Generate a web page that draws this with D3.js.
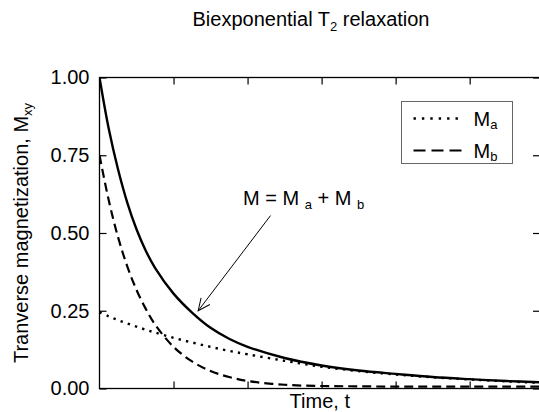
<!DOCTYPE html>
<html>
<head>
<meta charset="utf-8">
<script src="https://cdn.jsdelivr.net/npm/d3@7"></script>
<style>
    body { margin: 0; background: #fff; }
    svg { display: block; }
</style>
</head>
<body>
<div id="main"></div>
<script>
"use strict";

// values (time in arbitrary units)
const times = [0, 0.125, 0.25, 0.375, 0.5, 0.625, 0.75, 1, 1.25, 1.5, 1.75, 2, 2.5, 3, 3.5, 4, 4.5, 5, 5.5, 5.95];
const magA = [0.245, 0.232, 0.220, 0.209, 0.199, 0.189, 0.180, 0.163, 0.148, 0.134, 0.121, 0.110, 0.089, 0.070, 0.056, 0.045, 0.036, 0.029, 0.023, 0.018];
const magB = [0.75, 0.605, 0.487, 0.393, 0.317, 0.256, 0.206, 0.134, 0.087, 0.056, 0.037, 0.024, 0.012, 0.008, 0.007, 0.006, 0.006, 0.006, 0.006, 0.006];
const magTotal = [1.0, 0.835, 0.705, 0.598, 0.512, 0.443, 0.388, 0.305, 0.244, 0.195, 0.160, 0.134, 0.098, 0.074, 0.058, 0.047, 0.037, 0.030, 0.024, 0.020];

const xTickValues = [1, 2, 3, 4, 5];
const yTickValues = [0, 0.25, 0.5, 0.75, 1];
const yTickLabels = ["0.00", "0.25", "0.50", "0.75", "1.00"];

const legendNames = [["M", "a"], ["M", "b"]];

const FONT = "'Liberation Sans', Arial, sans-serif";

function main() {
    const params = {
        width: 539,
        height: 412,
        left: 99.5,
        right: 540,
        top: 77.5,
        bottom: 388.5
    };

    const svg = d3.select("#main").append("svg")
        .attr("width", params.width)
        .attr("height", params.height)
        .style("font-family", FONT);

    const x = d3.scaleLinear().domain([0, 5.95]).range([params.left, params.right]);
    const y = d3.scaleLinear().domain([0, 1]).range([params.bottom, params.top]);

    svg.append("clipPath").attr("id", "plotClip")
        .append("rect")
        .attr("x", params.left).attr("y", params.top - 2)
        .attr("width", params.right - params.left)
        .attr("height", params.bottom - params.top + 2);

    // curves: dotted M_a, dashed M_b, solid sum
    const series = [
        { values: magA, dash: "2.4,5.2", width: 2.4 },
        { values: magB, dash: "9,5", width: 2.2 },
        { values: magTotal, dash: null, width: 2.4 }
    ];

    const line = d3.line()
        .x(d => x(d.t))
        .y(d => y(d.v))
        .curve(d3.curveCatmullRom.alpha(0.5));

    svg.append("g").attr("clip-path", "url(#plotClip)")
        .selectAll("path")
        .data(series)
        .join("path")
        .attr("d", s => line(times.map((t, i) => ({ t: t, v: s.values[i] }))))
        .attr("fill", "none")
        .attr("stroke", "#000")
        .attr("stroke-width", s => s.width)
        .attr("stroke-dasharray", s => s.dash);

    drawAxes(svg, x, y, params);
    drawLegend(svg, series);
    drawAnnotation(svg, x, y);

    // title
    const title = svg.append("text")
        .attr("x", 311)
        .attr("y", 26)
        .attr("text-anchor", "middle")
        .style("font-size", "20px");
    title.append("tspan").text("Biexponential T");
    title.append("tspan").attr("dy", 4.5).style("font-size", "13px").text("2");
    title.append("tspan").attr("dy", -4.5).text(" relaxation");

    // axis titles
    svg.append("text")
        .attr("x", (params.left + params.right) / 2)
        .attr("y", 408)
        .attr("text-anchor", "middle")
        .style("font-size", "20px")
        .text("Time, t");

    const yTitle = svg.append("text")
        .attr("transform", `translate(28, ${(params.top + params.bottom) / 2}) rotate(-90)`)
        .attr("text-anchor", "middle")
        .style("font-size", "20px");
    yTitle.append("tspan").text("Tranverse magnetization, M");
    yTitle.append("tspan").attr("dy", 4).style("font-size", "13px").text("xy");
}

function drawAxes(svg, x, y, params) {
    const bottom = svg.append("g")
        .attr("transform", `translate(0, ${params.bottom})`)
        .call(d3.axisBottom(x).tickValues(xTickValues).tickSize(-7).tickFormat(""));
    const top = svg.append("g")
        .attr("transform", `translate(0, ${params.top})`)
        .call(d3.axisTop(x).tickValues(xTickValues).tickSize(-7).tickFormat(""));
    const left = svg.append("g")
        .attr("transform", `translate(${params.left}, 0)`)
        .call(d3.axisLeft(y).tickValues(yTickValues).tickSize(-7).tickPadding(10)
            .tickFormat((d, i) => yTickLabels[i]));
    const right = svg.append("g")
        .attr("transform", `translate(${params.right}, 0)`)
        .call(d3.axisRight(y).tickValues(yTickValues).tickSize(-7).tickFormat(""));

    [bottom, top, left, right].forEach(g => {
        g.select(".domain").remove();
        g.selectAll(".tick line").attr("stroke", "#000").attr("stroke-width", 1.2);
    });
    left.selectAll(".tick text")
        .style("font-family", FONT)
        .style("font-size", "20px")
        .attr("fill", "#000");

    // frame around the plot
    svg.append("rect")
        .attr("x", params.left)
        .attr("y", params.top)
        .attr("width", params.right - params.left)
        .attr("height", params.bottom - params.top)
        .attr("fill", "none")
        .attr("stroke", "#000")
        .attr("stroke-width", 1.3);
}

function drawLegend(svg, series) {
    const box = { x: 401.5, y: 101.5, w: 111, h: 62 };
    svg.append("rect")
        .attr("x", box.x).attr("y", box.y)
        .attr("width", box.w).attr("height", box.h)
        .attr("fill", "#fff")
        .attr("stroke", "#666")
        .attr("stroke-width", 1);

    const rows = svg.append("g").selectAll("g")
        .data(legendNames)
        .join("g")
        .attr("transform", (d, i) => `translate(${box.x}, ${box.y + 17 + i * 32})`);

    rows.append("line")
        .attr("x1", 12).attr("x2", 61)
        .attr("stroke", "#000")
        .attr("stroke-width", (d, i) => series[i].width)
        .attr("stroke-dasharray", (d, i) => i === 0 ? "2.4,6" : "12,6");

    const label = rows.append("text")
        .attr("x", 72)
        .attr("y", 7)
        .style("font-size", "20px");
    label.append("tspan").text(d => d[0]);
    label.append("tspan").attr("dy", 3).style("font-size", "13px").text(d => d[1]);
}

function drawAnnotation(svg, x, y) {
    const arrowFrom = { t: 2.31, v: 0.556 };
    const arrowTo = { t: 1.333, v: 0.25 };

    svg.append("defs").append("marker")
        .attr("id", "arrowHead")
        .attr("markerUnits", "userSpaceOnUse")
        .attr("markerWidth", 16).attr("markerHeight", 16)
        .attr("refX", 13).attr("refY", 8)
        .attr("orient", "auto")
        .append("path")
        .attr("d", "M1,2.5 L13,8 L1,13.5")
        .attr("fill", "none")
        .attr("stroke", "#000")
        .attr("stroke-width", 1);

    svg.append("line")
        .attr("x1", x(arrowFrom.t)).attr("y1", y(arrowFrom.v))
        .attr("x2", x(arrowTo.t)).attr("y2", y(arrowTo.v))
        .attr("stroke", "#000")
        .attr("stroke-width", 1)
        .attr("marker-end", "url(#arrowHead)");

    const note = svg.append("text")
        .attr("x", x(2.756))
        .attr("y", y(0.59))
        .attr("text-anchor", "middle")
        .style("font-size", "20px");
    note.append("tspan").text("M = M ");
    note.append("tspan").attr("dy", 3.5).style("font-size", "13px").text("a");
    note.append("tspan").attr("dy", -3.5).text(" + M ");
    note.append("tspan").attr("dy", 3.5).style("font-size", "13px").text("b");
}

main();
</script>
</body>
</html>
